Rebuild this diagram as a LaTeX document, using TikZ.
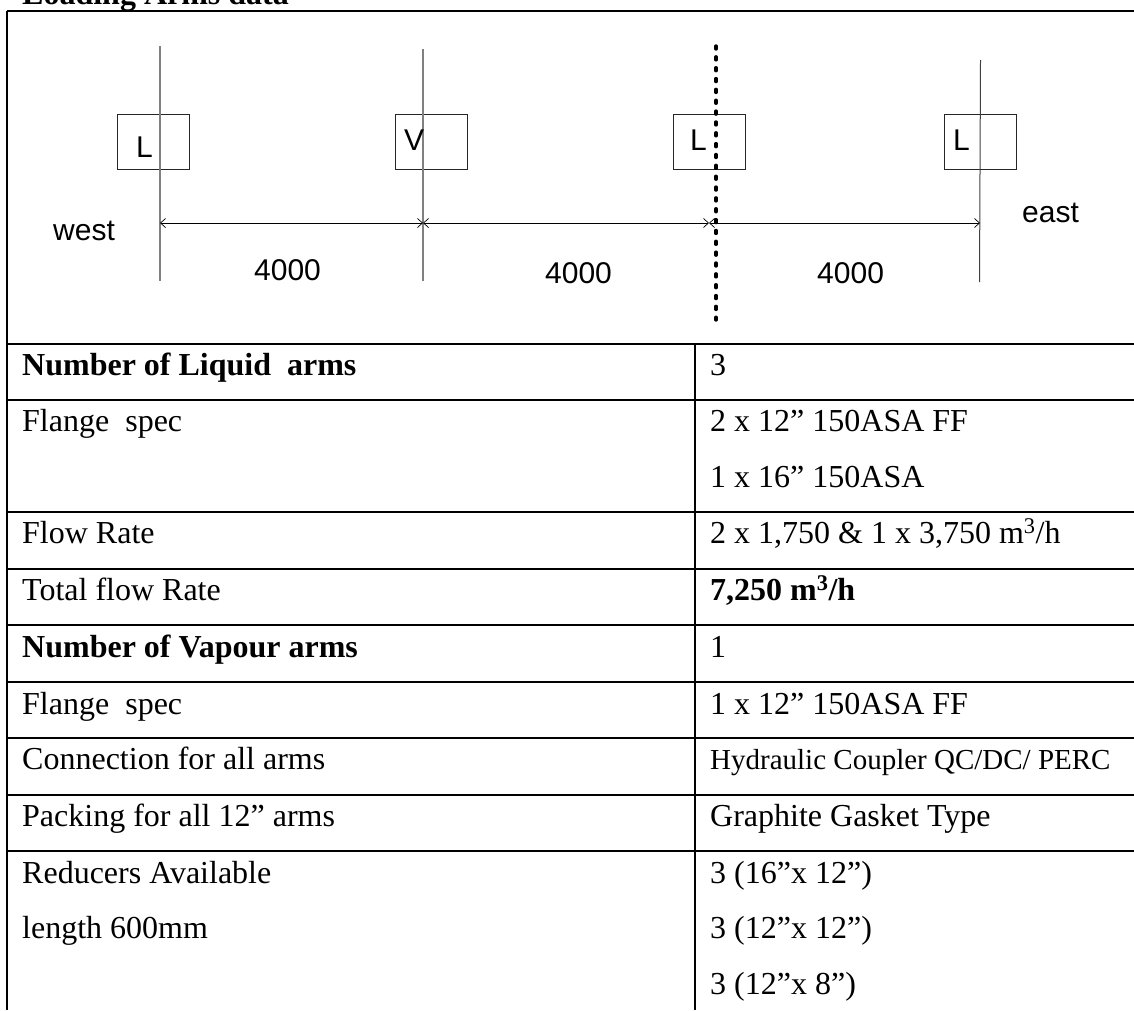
\documentclass[tikz,border=0pt]{standalone}
\usepackage{fontspec}
\setmainfont{Liberation Serif}
\newfontfamily\arialf{Liberation Sans}
\usetikzlibrary{arrows.meta}
\tikzset{
  x=1pt,y=-1pt,
  rule/.style={line width=2pt,black},
  cell/.style={anchor=base west,inner sep=0pt,yshift=-2pt,font=\fontsize{32}{32}\selectfont},
  cellb/.style={cell,font=\fontsize{32}{32}\selectfont\bfseries},
  cellsmall/.style={cell,font=\fontsize{29}{29}\selectfont},
  dim/.style={anchor=base west,inner sep=0pt,font=\arialf\fontsize{30}{30}\selectfont},
  armbox/.style={draw=black!85,line width=1pt,minimum width=72pt,minimum height=55pt,inner sep=0pt},
  armline/.style={draw=black!50,line width=1.4pt},
  measure/.style={draw=black,line width=1pt,{Straight Barb[length=5pt,width=9pt,line width=0.7pt]}-{Straight Barb[length=5pt,width=9pt,line width=0.7pt]}},
  dotline/.style={line width=3.4pt,line cap=round,dash pattern=on 3pt off 7.85pt},
}
\begin{document}
\begin{tikzpicture}
\useasboundingbox (0,0) rectangle (1134,1010);
% title
\node[cellb] (title) at (22,2) {Loading Arms data};
% table rules
\coordinate (tl) at (7,11); \coordinate (tr) at (1134,11);
\coordinate (bl) at (7,1010);
\coordinate (dt) at (695,344); \coordinate (db) at (695,1010);
\draw[rule] (tl) -- (tr);
\draw[rule] (tl) -- (bl);
\draw[rule] (dt) -- (db);
\foreach \yy in {344,400,512,569,625,682,738,795,851}
  \draw[rule] (7,\yy) -- (1134,\yy);
% boxes
\node[armbox] (b1) at (153,141.5) {};
\node[armbox] (b2) at (431,141.5) {};
\node[armbox] (b3) at (709,141.5) {};
\node[armbox] (b4) at (980,141.5) {};
% arm lines
\coordinate (l1t) at (160,46);  \coordinate (l1b) at (160,281);
\coordinate (l2t) at (423,49);  \coordinate (l2b) at (423,281);
\coordinate (l3t) at (716,46);  \coordinate (l3b) at (716,320);
\coordinate (l4t) at (980.5,60);\coordinate (l4b) at (979.5,282);
\draw[armline] (l1t) -- (l1b);
\draw[armline] (l2t) -- (l2b);
\draw[armline,draw=black!75,line width=1pt] (l4t) -- (l4b);
\draw[dotline] (l3t) -- (l3b);
% measures
\coordinate (m0) at (160,223); \coordinate (m1) at (423,223);
\coordinate (m2) at (709,223); \coordinate (m3) at (980,223);
\draw[measure] (m0) -- (m1);
\draw[measure] (m1) -- (m2);
\draw[measure] (m2) -- (m3);
% diagram labels
\node[dim] (tL1) at (136,157) {L};
\node[dim] (tV)  at (404,150) {V};
\node[dim] (tL3) at (690,150) {L};
\node[dim] (tL4) at (953,150) {L};
\node[dim] (west) at (53,240) {west};
\node[dim] (east) at (1022,222) {east};
\node[dim] (d1) at (254,280) {4000};
\node[dim] (d2) at (545,283) {4000};
\node[dim] (d3) at (817,283) {4000};
% table left
\node[cellb] (a1) at (22,373) {Number of Liquid\ \ arms};
\node[cell]  (a2) at (22,429) {Flange\ \ spec};
\node[cell]  (a3) at (22,541) {Flow Rate};
\node[cell]  (a4) at (22,598) {Total flow Rate};
\node[cellb] (a5) at (22,655) {Number of Vapour arms};
\node[cell]  (a6) at (22,712) {Flange\ \ spec};
\node[cell]  (a7) at (22,767) {Connection for all arms};
\node[cell]  (a8) at (22,824) {Packing for all 12” arms};
\node[cell]  (a9) at (22,881) {Reducers Available};
\node[cell]  (a10) at (22,936) {length 600mm};
% table right
\node[cell]  (c1) at (710,373) {3};
\node[cell]  (c2) at (710,429) {2 x 12” 150ASA FF};
\node[cell]  (c3) at (710,485) {1 x 16” 150ASA};
\node[cell]  (c4) at (710,541) {2 x 1,750 \& 1 x 3,750 m\textsuperscript{3}/h};
\node[cellb] (c5) at (710,598) {7,250 m\textsuperscript{3}/h};
\node[cell]  (c6) at (710,655) {1};
\node[cell]  (c7) at (710,712) {1 x 12” 150ASA FF};
\node[cellsmall] (c8) at (710,767) {Hydraulic Coupler QC/DC/ PERC};
\node[cell]  (c9) at (710,824) {Graphite Gasket Type};
\node[cell]  (c10) at (710,881) {3 (16”x 12”)};
\node[cell]  (c11) at (710,936) {3 (12”x 12”)};
\node[cell]  (c12) at (710,992) {3 (12”x 8”)};
\end{tikzpicture}
\end{document}
